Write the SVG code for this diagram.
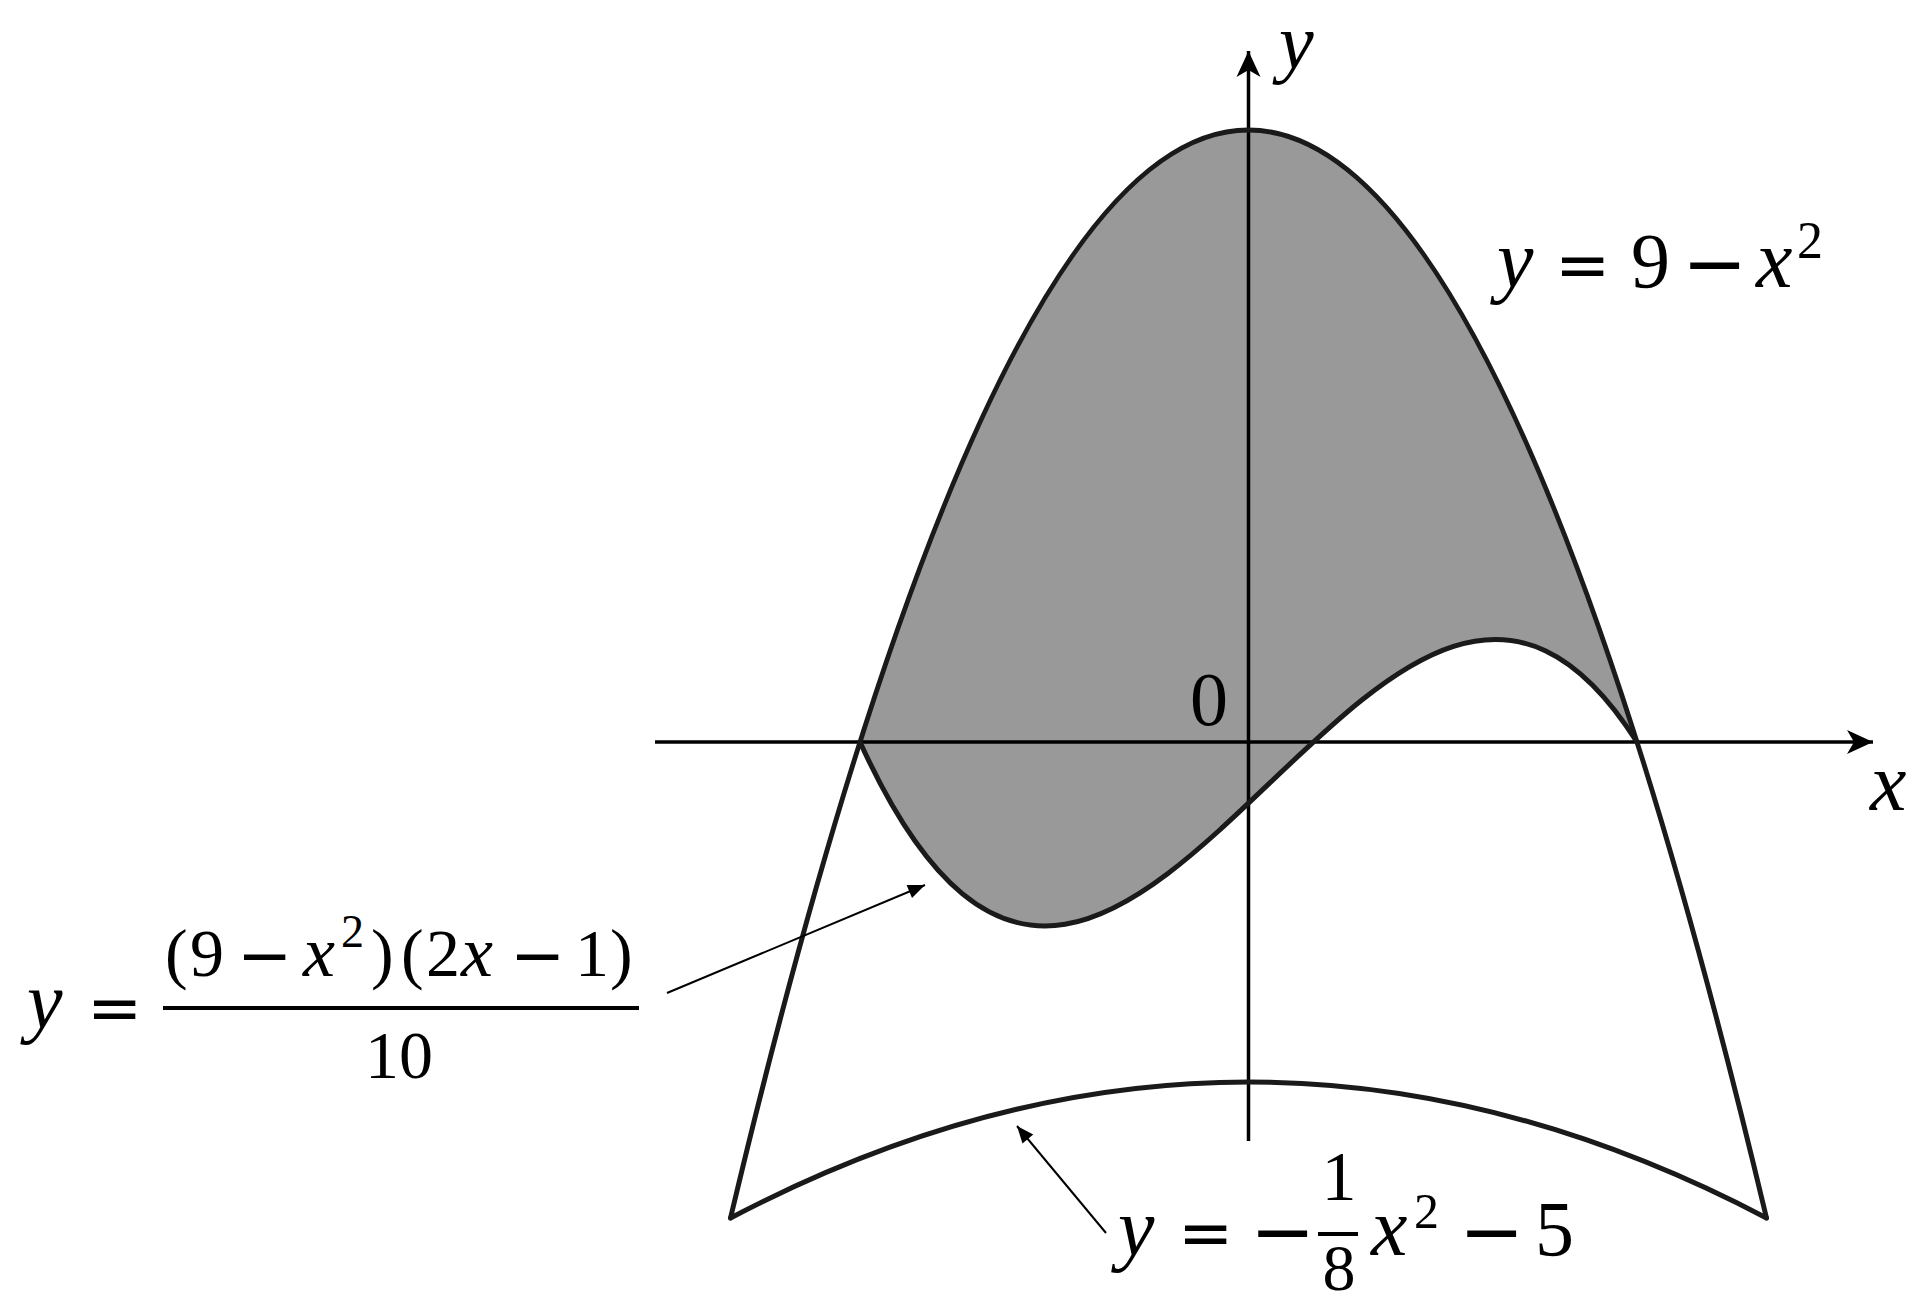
<svg xmlns="http://www.w3.org/2000/svg" width="1920" height="1305" viewBox="0 0 1920 1305">
<style>
.curve{fill:none;stroke:#1a1a1a;stroke-width:5;stroke-linecap:round;stroke-linejoin:round}
.axis{fill:none;stroke:#000;stroke-width:3.5}
.lead{fill:none;stroke:#000;stroke-width:2}
.t{font-family:"Liberation Serif","Times New Roman",serif;fill:#000}
.i{font-style:italic}
.op{font-family:"DejaVu Sans",sans-serif;font-style:normal}
</style>
<defs>
<marker id="axhead" markerUnits="userSpaceOnUse" markerWidth="30" markerHeight="30" refX="0" refY="0" viewBox="-28 -14 30 28" orient="auto">
<path d="M0,0 L-26,-12 L-19,0 L-26,12 Z" fill="#000"/>
</marker>
<marker id="ldhead" markerUnits="userSpaceOnUse" markerWidth="20" markerHeight="20" refX="0" refY="0" viewBox="-18 -9 20 18" orient="auto">
<path d="M0,0 L-17,-7 L-17,7 Z" fill="#000"/>
</marker>
</defs>
<rect width="1920" height="1305" fill="#fff"/>
<g id="region">
<path d="M860,742 Q1248.5,-482 1637,742 C1378,334 1119,1313.2 860,742 Z" fill="#999999" stroke="none"/>
</g>
<g id="axes">
<line class="axis" x1="655" y1="742" x2="1873" y2="742" marker-end="url(#axhead)"/>
<line class="axis" x1="1248.5" y1="1141" x2="1248.5" y2="51" marker-end="url(#axhead)"/>
</g>
<g id="curves">
<path id="parabola-top" class="curve" d="M730.5,1218 Q1248.5,-958 1766.5,1218"/>
<path id="parabola-bottom" class="curve" d="M730.5,1218 Q1248.5,946 1766.5,1218"/>
<path id="cubic" class="curve" d="M860,742 C1119,1313.2 1378,334 1637,742"/>
</g>
<g id="connectors">
<line class="lead" x1="667" y1="993" x2="925" y2="885" marker-end="url(#ldhead)"/>
<line class="lead" x1="1106" y1="1233" x2="1017" y2="1126" marker-end="url(#ldhead)"/>
</g>
<g id="axis-labels">
<text class="t i" x="1279" y="68" font-size="78">y</text>
<text class="t i" x="1870" y="810" font-size="82">x</text>
<text class="t" x="1190" y="725" font-size="76">0</text>
</g>
<g id="label-top">
<text class="t" y="287" font-size="78"><tspan class="i" x="1497" font-size="82">y</tspan><tspan class="op" x="1555" font-size="66">=</tspan><tspan x="1631">9</tspan><tspan class="op" x="1682" y="290" font-size="78">−</tspan><tspan class="i" x="1756" y="287" font-size="82">x</tspan><tspan x="1797" y="258" font-size="52">2</tspan></text>
</g>
<g id="label-cubic">
<text class="t i" x="27" y="1028" font-size="80">y</text>
<text class="t op" x="87" y="1030" font-size="66">=</text>
<rect x="163" y="1006" width="476" height="4" fill="#000"/>
<text class="t" y="976" font-size="68"><tspan x="165">(</tspan><tspan x="190">9</tspan><tspan class="op" x="237" y="978" font-size="66">−</tspan><tspan class="i" x="303" y="976" font-size="72">x</tspan><tspan x="341" y="947" font-size="46">2</tspan><tspan x="371" y="976">)</tspan><tspan x="401">(</tspan><tspan x="426">2</tspan><tspan class="i" x="461" font-size="72">x</tspan><tspan class="op" x="510" y="978" font-size="66">−</tspan><tspan x="575" y="976">1</tspan><tspan x="610">)</tspan></text>
<text class="t" x="365" y="1078" font-size="68">10</text>
</g>
<g id="label-bottom">
<text class="t" y="1255" font-size="78"><tspan class="i" x="1118" font-size="82">y</tspan><tspan class="op" x="1178" font-size="66">=</tspan><tspan class="op" x="1250" y="1258" font-size="78">−</tspan></text>
<rect x="1318" y="1232" width="40" height="4" fill="#000"/>
<text class="t" x="1339" y="1200" font-size="70" text-anchor="middle">1</text>
<text class="t" x="1339" y="1290" font-size="66" text-anchor="middle">8</text>
<text class="t" y="1255" font-size="78"><tspan class="i" x="1371" font-size="82">x</tspan><tspan x="1414" y="1228" font-size="50">2</tspan><tspan class="op" x="1459" y="1258" font-size="78">−</tspan><tspan x="1535" y="1255">5</tspan></text>
</g>
</svg>
